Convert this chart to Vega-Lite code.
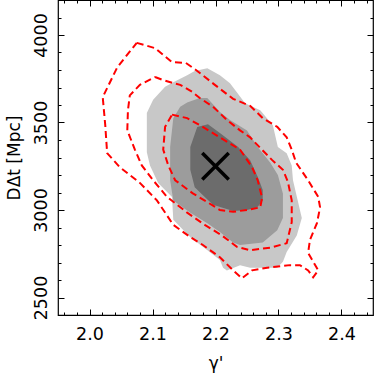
{
  "$schema": "https://vega.github.io/schema/vega-lite/v6.json",
  "width": 315,
  "height": 315,
  "autosize": {"type": "none"},
  "padding": {"left": 58, "top": 0, "right": 1, "bottom": 58},
  "background": "white",
  "config": {
    "view": {"stroke": "black", "strokeWidth": 1.2},
    "axis": {
      "domain": false, "grid": false,
      "labelFont": "DejaVu Sans", "labelFontSize": 17.5, "labelColor": "black",
      "titleFont": "DejaVu Sans", "titleFontSize": 17, "titleFontWeight": "normal", "titleColor": "black",
      "tickColor": "black", "tickWidth": 1
    }
  },
  "data": {"values": [
    {"c":"g1","i":0,"x":2.091,"y":3555},{"c":"g1","i":1,"x":2.101,"y":3630},{"c":"g1","i":2,"x":2.120,"y":3705},{"c":"g1","i":3,"x":2.133,"y":3730},{"c":"g1","i":4,"x":2.155,"y":3770},{"c":"g1","i":5,"x":2.167,"y":3795},{"c":"g1","i":6,"x":2.187,"y":3810},{"c":"g1","i":7,"x":2.207,"y":3770},{"c":"g1","i":8,"x":2.223,"y":3725},{"c":"g1","i":9,"x":2.247,"y":3610},{"c":"g1","i":10,"x":2.271,"y":3570},{"c":"g1","i":11,"x":2.291,"y":3485},{"c":"g1","i":12,"x":2.299,"y":3360},{"c":"g1","i":13,"x":2.313,"y":3325},{"c":"g1","i":14,"x":2.321,"y":3255},{"c":"g1","i":15,"x":2.323,"y":3170},{"c":"g1","i":16,"x":2.337,"y":2955},{"c":"g1","i":17,"x":2.329,"y":2855},{"c":"g1","i":18,"x":2.313,"y":2760},{"c":"g1","i":19,"x":2.307,"y":2705},{"c":"g1","i":20,"x":2.298,"y":2670},{"c":"g1","i":21,"x":2.255,"y":2670},{"c":"g1","i":22,"x":2.239,"y":2685},{"c":"g1","i":23,"x":2.218,"y":2655},{"c":"g1","i":24,"x":2.212,"y":2670},{"c":"g1","i":25,"x":2.207,"y":2715},{"c":"g1","i":26,"x":2.180,"y":2790},{"c":"g1","i":27,"x":2.160,"y":2845},{"c":"g1","i":28,"x":2.133,"y":2945},{"c":"g1","i":29,"x":2.131,"y":3075},{"c":"g1","i":30,"x":2.109,"y":3155},{"c":"g1","i":31,"x":2.096,"y":3255},{"c":"g1","i":32,"x":2.091,"y":3330},
    {"c":"g2","i":0,"x":2.133,"y":3525},{"c":"g2","i":1,"x":2.144,"y":3590},{"c":"g2","i":2,"x":2.155,"y":3615},{"c":"g2","i":3,"x":2.175,"y":3640},{"c":"g2","i":4,"x":2.187,"y":3640},{"c":"g2","i":5,"x":2.207,"y":3560},{"c":"g2","i":6,"x":2.223,"y":3515},{"c":"g2","i":7,"x":2.250,"y":3455},{"c":"g2","i":8,"x":2.267,"y":3360},{"c":"g2","i":9,"x":2.287,"y":3270},{"c":"g2","i":10,"x":2.299,"y":3200},{"c":"g2","i":11,"x":2.307,"y":3095},{"c":"g2","i":12,"x":2.307,"y":2955},{"c":"g2","i":13,"x":2.298,"y":2885},{"c":"g2","i":14,"x":2.275,"y":2815},{"c":"g2","i":15,"x":2.239,"y":2800},{"c":"g2","i":16,"x":2.228,"y":2815},{"c":"g2","i":17,"x":2.207,"y":2875},{"c":"g2","i":18,"x":2.187,"y":2925},{"c":"g2","i":19,"x":2.160,"y":2985},{"c":"g2","i":20,"x":2.133,"y":3055},{"c":"g2","i":21,"x":2.128,"y":3170},{"c":"g2","i":22,"x":2.128,"y":3360},
    {"c":"g3","i":0,"x":2.171,"y":3475},{"c":"g3","i":1,"x":2.188,"y":3490},{"c":"g3","i":2,"x":2.207,"y":3440},{"c":"g3","i":3,"x":2.236,"y":3360},{"c":"g3","i":4,"x":2.255,"y":3285},{"c":"g3","i":5,"x":2.267,"y":3190},{"c":"g3","i":6,"x":2.275,"y":3115},{"c":"g3","i":7,"x":2.275,"y":3055},{"c":"g3","i":8,"x":2.266,"y":3015},{"c":"g3","i":9,"x":2.250,"y":3000},{"c":"g3","i":10,"x":2.228,"y":2995},{"c":"g3","i":11,"x":2.196,"y":3030},{"c":"g3","i":12,"x":2.183,"y":3075},{"c":"g3","i":13,"x":2.167,"y":3130},{"c":"g3","i":14,"x":2.160,"y":3230},{"c":"g3","i":15,"x":2.160,"y":3360},
    {"c":"r3","i":0,"x":2.075,"y":3955},{"c":"r3","i":1,"x":2.104,"y":3925},{"c":"r3","i":2,"x":2.131,"y":3845},{"c":"r3","i":3,"x":2.153,"y":3840},{"c":"r3","i":4,"x":2.169,"y":3800},{"c":"r3","i":5,"x":2.199,"y":3715},{"c":"r3","i":6,"x":2.228,"y":3635},{"c":"r3","i":7,"x":2.255,"y":3595},{"c":"r3","i":8,"x":2.275,"y":3525},{"c":"r3","i":9,"x":2.298,"y":3475},{"c":"r3","i":10,"x":2.313,"y":3415},{"c":"r3","i":11,"x":2.321,"y":3345},{"c":"r3","i":12,"x":2.328,"y":3270},{"c":"r3","i":13,"x":2.347,"y":3170},{"c":"r3","i":14,"x":2.363,"y":3075},{"c":"r3","i":15,"x":2.366,"y":3015},{"c":"r3","i":16,"x":2.361,"y":2925},{"c":"r3","i":17,"x":2.350,"y":2830},{"c":"r3","i":18,"x":2.347,"y":2755},{"c":"r3","i":19,"x":2.363,"y":2655},{"c":"r3","i":20,"x":2.355,"y":2615},{"c":"r3","i":21,"x":2.347,"y":2655},{"c":"r3","i":22,"x":2.334,"y":2685},{"c":"r3","i":23,"x":2.318,"y":2685},{"c":"r3","i":24,"x":2.282,"y":2670},{"c":"r3","i":25,"x":2.258,"y":2655},{"c":"r3","i":26,"x":2.242,"y":2610},{"c":"r3","i":27,"x":2.228,"y":2655},{"c":"r3","i":28,"x":2.207,"y":2730},{"c":"r3","i":29,"x":2.180,"y":2800},{"c":"r3","i":30,"x":2.160,"y":2845},{"c":"r3","i":31,"x":2.133,"y":2915},{"c":"r3","i":32,"x":2.107,"y":3055},{"c":"r3","i":33,"x":2.080,"y":3155},{"c":"r3","i":34,"x":2.048,"y":3245},{"c":"r3","i":35,"x":2.028,"y":3325},{"c":"r3","i":36,"x":2.025,"y":3485},{"c":"r3","i":37,"x":2.021,"y":3645},{"c":"r3","i":38,"x":2.044,"y":3815},{"c":"r3","i":39,"x":2.075,"y":3955},
    {"c":"r2","i":0,"x":2.104,"y":3760},{"c":"r2","i":1,"x":2.115,"y":3745},{"c":"r2","i":2,"x":2.133,"y":3725},{"c":"r2","i":3,"x":2.144,"y":3715},{"c":"r2","i":4,"x":2.163,"y":3675},{"c":"r2","i":5,"x":2.175,"y":3640},{"c":"r2","i":6,"x":2.196,"y":3590},{"c":"r2","i":7,"x":2.218,"y":3515},{"c":"r2","i":8,"x":2.239,"y":3455},{"c":"r2","i":9,"x":2.255,"y":3415},{"c":"r2","i":10,"x":2.271,"y":3355},{"c":"r2","i":11,"x":2.290,"y":3285},{"c":"r2","i":12,"x":2.307,"y":3230},{"c":"r2","i":13,"x":2.315,"y":3160},{"c":"r2","i":14,"x":2.321,"y":3055},{"c":"r2","i":15,"x":2.321,"y":2930},{"c":"r2","i":16,"x":2.313,"y":2810},{"c":"r2","i":17,"x":2.287,"y":2785},{"c":"r2","i":18,"x":2.255,"y":2770},{"c":"r2","i":19,"x":2.234,"y":2790},{"c":"r2","i":20,"x":2.210,"y":2855},{"c":"r2","i":21,"x":2.183,"y":2915},{"c":"r2","i":22,"x":2.155,"y":2985},{"c":"r2","i":23,"x":2.123,"y":3075},{"c":"r2","i":24,"x":2.101,"y":3170},{"c":"r2","i":25,"x":2.083,"y":3255},{"c":"r2","i":26,"x":2.072,"y":3345},{"c":"r2","i":27,"x":2.060,"y":3455},{"c":"r2","i":28,"x":2.061,"y":3570},{"c":"r2","i":29,"x":2.064,"y":3655},{"c":"r2","i":30,"x":2.080,"y":3715},{"c":"r2","i":31,"x":2.104,"y":3760},
    {"c":"r1","i":0,"x":2.131,"y":3545},{"c":"r1","i":1,"x":2.155,"y":3525},{"c":"r1","i":2,"x":2.175,"y":3485},{"c":"r1","i":3,"x":2.207,"y":3415},{"c":"r1","i":4,"x":2.239,"y":3345},{"c":"r1","i":5,"x":2.258,"y":3245},{"c":"r1","i":6,"x":2.267,"y":3170},{"c":"r1","i":7,"x":2.274,"y":3070},{"c":"r1","i":8,"x":2.271,"y":3015},{"c":"r1","i":9,"x":2.250,"y":3000},{"c":"r1","i":10,"x":2.228,"y":2990},{"c":"r1","i":11,"x":2.207,"y":3000},{"c":"r1","i":12,"x":2.187,"y":3045},{"c":"r1","i":13,"x":2.164,"y":3095},{"c":"r1","i":14,"x":2.136,"y":3170},{"c":"r1","i":15,"x":2.125,"y":3255},{"c":"r1","i":16,"x":2.117,"y":3345},{"c":"r1","i":17,"x":2.120,"y":3475},{"c":"r1","i":18,"x":2.131,"y":3545}
  ]},
  "resolve": {"axis": {"x": "independent", "y": "independent"}},
  "layer": [
    {
      "transform": [{"filter": "datum.c === 'g1'"}],
      "mark": {"type": "line", "fill": "#c8c8c8", "stroke": null, "strokeWidth": 0},
      "encoding": {
        "x": {"field": "x", "type": "quantitative", "scale": {"domain": [1.95, 2.45], "nice": false, "zero": false},
              "axis": {"orient": "bottom", "values": [2.0, 2.1, 2.2, 2.3, 2.4], "format": ".1f", "ticks": false, "labelPadding": 10, "title": "γ'", "titlePadding": 13}},
        "y": {"field": "y", "type": "quantitative", "scale": {"domain": [2400, 4200], "nice": false, "zero": false},
              "axis": {"orient": "left", "values": [2500, 3000, 3500, 4000], "format": "d", "ticks": false, "labelAngle": -90, "labelAlign": "center", "labelBaseline": "bottom", "labelPadding": 8, "title": "DΔt [Mpc]", "titlePadding": 9}},
        "order": {"field": "i", "type": "quantitative"}
      }
    },
    {
      "transform": [{"filter": "datum.c === 'g2'"}],
      "mark": {"type": "line", "fill": "#9c9c9c", "stroke": null, "strokeWidth": 0},
      "encoding": {
        "x": {"field": "x", "type": "quantitative",
              "axis": {"orient": "bottom", "values": [1.96,1.98,2.0,2.02,2.04,2.06,2.08,2.1,2.12,2.14,2.16,2.18,2.2,2.22,2.24,2.26,2.28,2.3,2.32,2.34,2.36,2.38,2.4,2.42,2.44], "labels": false, "title": null,
                       "tickSize": {"condition": {"test": "abs(datum.value*10 - round(datum.value*10)) < 0.01", "value": -6}, "value": -3}}},
        "y": {"field": "y", "type": "quantitative",
              "axis": {"orient": "left", "values": [2500,2600,2700,2800,2900,3000,3100,3200,3300,3400,3500,3600,3700,3800,3900,4000,4100], "labels": false, "title": null,
                       "tickSize": {"condition": {"test": "datum.value % 500 === 0", "value": -6}, "value": -3}}},
        "order": {"field": "i", "type": "quantitative"}
      }
    },
    {
      "transform": [{"filter": "datum.c === 'g3'"}],
      "mark": {"type": "line", "fill": "#6c6c6c", "stroke": null, "strokeWidth": 0},
      "encoding": {
        "x": {"field": "x", "type": "quantitative",
              "axis": {"orient": "top", "values": [1.96,1.98,2.0,2.02,2.04,2.06,2.08,2.1,2.12,2.14,2.16,2.18,2.2,2.22,2.24,2.26,2.28,2.3,2.32,2.34,2.36,2.38,2.4,2.42,2.44], "labels": false, "title": null,
                       "tickSize": {"condition": {"test": "abs(datum.value*10 - round(datum.value*10)) < 0.01", "value": -6}, "value": -3}}},
        "y": {"field": "y", "type": "quantitative",
              "axis": {"orient": "right", "values": [2500,2600,2700,2800,2900,3000,3100,3200,3300,3400,3500,3600,3700,3800,3900,4000,4100], "labels": false, "title": null,
                       "tickSize": {"condition": {"test": "datum.value % 500 === 0", "value": -6}, "value": -3}}},
        "order": {"field": "i", "type": "quantitative"}
      }
    },
    {
      "transform": [{"filter": "datum.c === 'r1' || datum.c === 'r2' || datum.c === 'r3'"}],
      "mark": {"type": "line", "color": "#ff0000", "strokeWidth": 2, "strokeDash": [7, 4]},
      "encoding": {
        "x": {"field": "x", "type": "quantitative", "axis": null},
        "y": {"field": "y", "type": "quantitative", "axis": null},
        "detail": {"field": "c"},
        "order": {"field": "i", "type": "quantitative"}
      }
    },
    {
      "data": {"values": [{"x": 2.2, "y": 3250}]},
      "mark": {"type": "point", "shape": "M-1,-1L1,1M-1,1L1,-1", "size": 700, "filled": false, "stroke": "black", "strokeWidth": 3.5, "opacity": 1},
      "encoding": {
        "x": {"field": "x", "type": "quantitative", "axis": null},
        "y": {"field": "y", "type": "quantitative", "axis": null}
      }
    }
  ]
}
